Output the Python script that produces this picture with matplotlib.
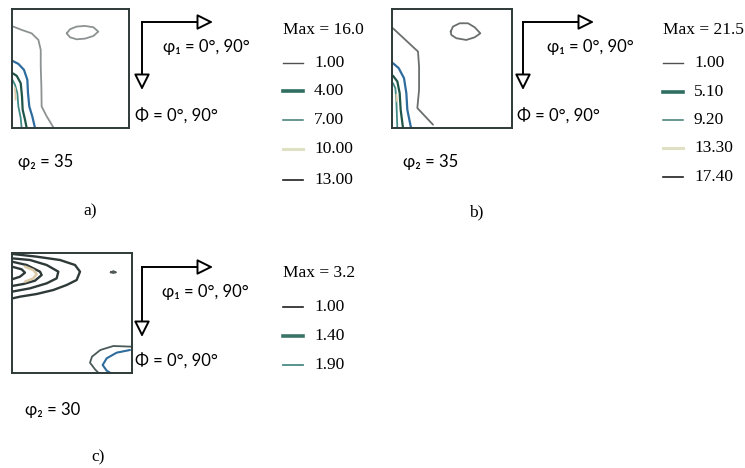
import matplotlib.pyplot as plt
from matplotlib.patches import FancyArrowPatch

# ---- data (phi1, Phi in degrees, Phi grows downward) ----
# panel a) phi2 = 35
a_lvl1_line = [(1.0, 13.3), (7.4, 15.8), (15.1, 18.4), (20.3, 23.4), (22.1, 30.9),
               (22.1, 43.5), (22.6, 58.6), (22.8, 73.7), (26.7, 81.2), (31.8, 89.5)]
a_lvl1_loop = [(42.1, 18.4), (44.6, 15.3), (49.7, 13.3), (56.2, 12.8), (62.6, 13.8),
               (66.4, 17.1), (62.6, 20.4), (56.2, 22.4), (49.7, 22.9), (44.6, 21.4),
               (42.1, 18.4)]
a_lvl4 = [(0.3, 39.2), (4.9, 41.5), (9.2, 46.0), (11.8, 53.5), (12.3, 63.6),
          (13.3, 73.7), (15.6, 81.2), (17.7, 90.0)]
a_lvl7 = [(0.3, 48.5), (3.6, 50.5), (6.7, 56.1), (7.7, 66.1), (8.2, 76.2),
          (10.0, 83.7), (11.3, 90.0)]
a_lvl10 = [(0.3, 53.5), (2.3, 57.3), (4.1, 63.6), (4.9, 73.7), (6.7, 82.5), (7.4, 90.0)]
a_lvl13 = [(2.3, 59.8), (2.6, 64.0), (2.8, 68.6)]

# panel b) phi2 = 35
b_lvl1_line = [(0.75, 14.6), (19.5, 32.2), (20.3, 43.5), (20.3, 61.1), (19.0, 74.9),
               (30.75, 87.5)]
b_lvl1_loop = [(44.0, 17.1), (45.75, 13.3), (50.75, 10.8), (57.0, 10.8), (62.0, 13.8),
               (66.25, 18.4), (62.0, 21.4), (55.75, 23.4), (48.25, 22.1), (44.5, 19.6),
               (44.0, 17.1)]
b_lvl5 = [(0.75, 41.0), (5.0, 44.7), (9.0, 52.3), (10.75, 63.6), (11.5, 76.2),
          (14.0, 88.7), (14.5, 90.0)]
b_lvl9 = [(0.75, 50.5), (4.0, 54.8), (5.75, 63.6), (6.5, 76.2), (8.25, 90.0)]
b_lvl13 = [(0.75, 56.1), (2.5, 59.8), (3.25, 68.6), (4.0, 90.0)]
b_lvl17 = [(3.25, 64.8), (3.5, 67.5), (3.75, 69.9)]

# panel c) phi2 = 30
c_lvl1_a = [(0.5, 0.75), (18.5, 2.75), (36.0, 5.25), (47.25, 9.0), (51.0, 14.0),
            (48.5, 20.25), (41.0, 24.0), (31.0, 27.75), (18.5, 30.75), (6.0, 32.75),
            (0.5, 34.0)]
c_lvl1_b = [(0.0, 4.0), (13.5, 5.25), (26.0, 9.0), (34.75, 14.0), (33.5, 19.0),
            (26.0, 22.75), (13.5, 26.5), (0.0, 29.0)]
c_lvl1_c = [(0.0, 6.5), (11.0, 9.0), (21.0, 14.0), (22.25, 16.5), (17.25, 20.75),
            (8.5, 23.25), (0.0, 24.75)]
c_lvl1_d = [(0.0, 10.25), (7.25, 12.25), (9.75, 14.75), (6.0, 17.75), (0.0, 19.75)]
c_inner = [(9.75, 10.25), (16.0, 12.75), (18.5, 15.75), (16.0, 19.0), (9.75, 21.5)]
c_spot = [(74.0, 14.5), (76.0, 13.6), (78.0, 14.5), (76.0, 15.0), (74.0, 14.5)]
c_corner_out = [(89.75, 70.25), (76.0, 69.75), (66.25, 72.75), (60.0, 77.75),
                (58.5, 82.25), (62.25, 87.25), (64.75, 89.75)]
c_corner_in = [(88.5, 72.75), (78.5, 74.75), (71.0, 79.0), (68.0, 84.0),
               (71.0, 88.25), (73.5, 89.75)]

# legends
a_max = "Max = 16.0"
a_levels = ["1.00", "4.00", "7.00", "10.00", "13.00"]
b_max = "Max = 21.5"
b_levels = ["1.00", "5.10", "9.20", "13.30", "17.40"]
c_max = "Max = 3.2"
c_levels = ["1.00", "1.40", "1.90"]

# ---- styles ----
C_GRAY = "#8c9292"
C_BLUE = "#2f6c9e"
C_DKGRN = "#1f5548"
C_TEAL = "#3f8a86"
C_TAN = "#dcc9a6"
C_DARK = "#2e3a38"

leg_styles5 = [("#505050", 1.0), ("#2f6e60", 2.6), ("#3d7a72", 1.1),
               ("#dfe0c4", 2.2), ("#202020", 1.2)]
leg_styles3 = [("#202020", 1.2), ("#3a7466", 2.6), ("#4a8a86", 1.3)]

SERIF = ["Liberation Serif", "DejaVu Serif"]
SANS = ["Lato", "DejaVu Sans"]
FS_SANS = 12
FS_SERIF = 12.5

W, H = 745, 468
fig = plt.figure(figsize=(W / 100, H / 100), dpi=100)

ov = fig.add_axes([0, 0, 1, 1])
ov.set_xlim(0, W)
ov.set_ylim(H, 0)
ov.axis("off")
ov.patch.set_visible(False)


def panel(x0, y0, x1, y1, lines):
    ax = fig.add_axes([x0 / W, 1 - y1 / H, (x1 - x0) / W, (y1 - y0) / H])
    ax.set_xlim(0, 90)
    ax.set_ylim(90, 0)
    ax.set_xticks([])
    ax.set_yticks([])
    for s in ax.spines.values():
        s.set_color(C_DARK)
        s.set_linewidth(1.4)
    for pts, col, lw in lines:
        ax.plot([p[0] for p in pts], [p[1] for p in pts], color=col, lw=lw,
                solid_capstyle="round")
    return ax


def arrows(x, y, xt, yt):
    ov.plot([x, x], [y, yt - 8], color="black", lw=1.4)
    ov.plot([x, xt - 8], [y, y], color="black", lw=1.4)
    for tail, head in [((xt - 12, y), (xt, y)), ((x, yt - 12), (x, yt))]:
        ov.add_patch(FancyArrowPatch(tail, head, arrowstyle="-|>,head_length=0.6,head_width=0.3",
                                     mutation_scale=16, fc="white", ec="black", lw=1.4,
                                     shrinkA=0, shrinkB=0, zorder=3))


def legend(x, ytop, title, labels, styles, ys):
    ov.text(x, ytop, title, family=SERIF, fontsize=FS_SERIF, ha="left", va="center")
    for lab, (col, lw), yy in zip(labels, styles, ys):
        ov.plot([x, x + 20], [yy, yy], color=col, lw=lw)
        ov.text(x + 31, yy, lab, family=SERIF, fontsize=FS_SERIF, ha="left", va="center")


# a)
panel(12, 9, 129, 128, [(a_lvl1_line, C_GRAY, 1.3), (a_lvl1_loop, C_GRAY, 1.3),
                        (a_lvl4, C_BLUE, 1.6), (a_lvl7, C_DKGRN, 1.6),
                        (a_lvl10, C_TEAL, 1.3), (a_lvl13, C_TAN, 1.3)])
arrows(142, 22, 213, 90)
ov.text(163, 47, "φ₁ = 0°, 90°", family=SANS, fontsize=FS_SANS, va="center")
ov.text(135, 117, "Φ = 0°, 90°", family=SANS, fontsize=FS_SANS, va="center")
ov.text(18, 162, "φ₂ = 35", family=SANS, fontsize=FS_SANS, va="center")
ov.text(90, 211, "a)", family=SERIF, fontsize=12.5, ha="center", va="center")
legend(283, 30, a_max, a_levels, leg_styles5, [63, 91, 120, 149, 180])

# b)
panel(392, 9, 512, 128, [(b_lvl1_line, "#6a6e6e", 1.3), (b_lvl1_loop, "#6a6e6e", 1.3),
                         (b_lvl5, C_BLUE, 1.6), (b_lvl9, C_DKGRN, 1.6),
                         (b_lvl13, C_TEAL, 1.3), (b_lvl17, C_TAN, 1.3)])
arrows(523, 22, 594, 90)
ov.text(547, 47, "φ₁ = 0°, 90°", family=SANS, fontsize=FS_SANS, va="center")
ov.text(517, 117, "Φ = 0°, 90°", family=SANS, fontsize=FS_SANS, va="center")
ov.text(403, 162, "φ₂ = 35", family=SANS, fontsize=FS_SANS, va="center")
ov.text(476, 212, "b)", family=SERIF, fontsize=12.5, ha="center", va="center")
legend(663, 30, b_max, b_levels, leg_styles5, [63, 92, 120, 148, 177])

# c)
panel(12, 253, 132, 373, [(c_lvl1_a, C_DARK, 1.7), (c_lvl1_b, C_DARK, 1.7),
                          (c_lvl1_c, C_DARK, 1.7), (c_lvl1_d, C_DARK, 1.7),
                          (c_inner, C_TAN, 1.8), (c_spot, "#505858", 1.3),
                          (c_corner_out, "#4a5a58", 1.3), (c_corner_in, C_BLUE, 1.5)])
arrows(142, 267, 213, 337)
ov.text(162, 292, "φ₁ = 0°, 90°", family=SANS, fontsize=FS_SANS, va="center")
ov.text(135, 362, "Φ = 0°, 90°", family=SANS, fontsize=FS_SANS, va="center")
ov.text(25, 410, "φ₂ = 30", family=SANS, fontsize=FS_SANS, va="center")
ov.text(98, 457, "c)", family=SERIF, fontsize=12.5, ha="center", va="center")
legend(283, 273, c_max, c_levels, leg_styles3, [307, 336, 365])

fig.savefig("out.png", dpi=100)
